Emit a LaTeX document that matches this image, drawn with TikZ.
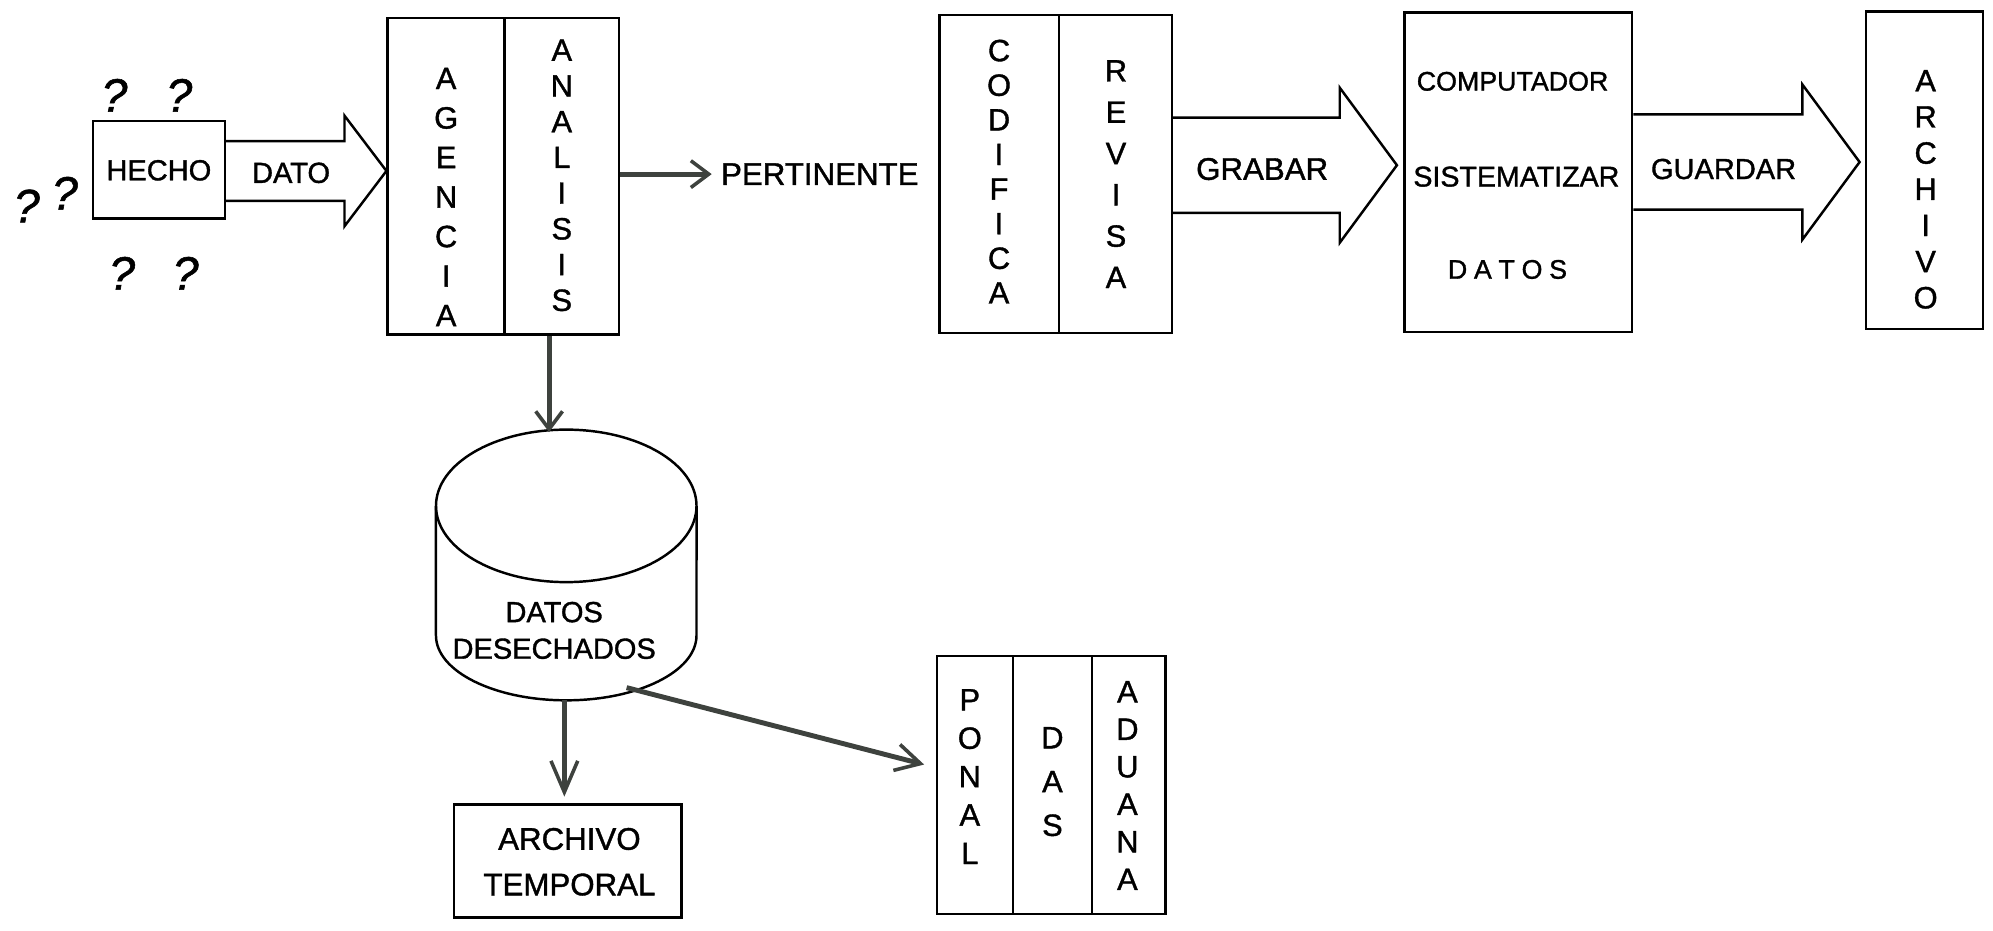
\documentclass[tikz,border=0pt]{standalone}
\usepackage{fontspec}
\setmainfont[FakeBold=1.2]{Liberation Sans}
\usetikzlibrary{arrows.meta,calc}
\definecolor{arrgray}{RGB}{62,66,62}
\newcommand{\blockarrow}[5]{% #1 start, #2 tip, #3 shaft half, #4 head half, #5 head length
  \draw[blk] ($(#1)+(0,-#3)$) -- ($(#2)+(-#5,-#3)$) -- ($(#2)+(-#5,-#4)$) -- (#2)
    -- ($(#2)+(-#5,#4)$) -- ($(#2)+(-#5,#3)$) -- ($(#1)+(0,#3)$);}
\begin{document}
\begin{tikzpicture}[x=0.02cm,y=-0.02cm,
  box/.style={draw, line width=1.1pt, inner sep=0pt},
  wh/.style 2 args={minimum width=#1*0.02cm, minimum height=#2*0.02cm},
  vstack/.style={inner sep=0pt, align=center, font=\fontsize{13.8pt}{#1pt}\selectfont},
  lbl/.style={inner sep=0pt, font=\fontsize{#1pt}{#1pt}\selectfont},
  lbltwo/.style 2 args={inner sep=0pt, align=center, font=\fontsize{#1pt}{#2pt}\selectfont},
  qm/.style={inner sep=0pt, font=\fontsize{21pt}{21pt}\selectfont\itshape},
  blk/.style={draw, line width=1.1pt, line join=miter},
  flow/.style={draw=arrgray, line width=2.2pt,
    -{Straight Barb[length=#1, width=12pt, line width=1.6pt]}},
  flow/.default=8pt
]
\useasboundingbox (0,0) rectangle (1568,732);

% ---- question marks and HECHO
\node[qm] (q1) at (90,75) {?};
\node[qm] (q2) at (141,75) {?};
\node[qm] (q3) at (21,162) {?};
\node[qm] (q4) at (51,152) {?};
\node[qm] (q5) at (96,215) {?};
\node[qm] (q6) at (146,215) {?};
\node[box, wh={104}{77}] (hecho) at (125,133.5) {};
\node[lbl=13] (hechotxt) at (125,134) {HECHO};

% ---- AGENCIA / ANALISIS
\node[box, wh={92}{249}] (agencia) at (351,138.5) {};
\node[box, wh={90}{249}] (analisis) at (442,138.5) {};
\node[vstack=17.7] (agtxt) at (351,155) {A\\G\\E\\N\\C\\I\\A};
\node[vstack=16] (antxt) at (442,138) {A\\N\\A\\L\\I\\S\\I\\S};

% DATO block arrow
\coordinate (d0) at (hecho.east |- 0,134.5);
\coordinate (d1) at (agencia.west |- 0,134.5);
\blockarrow{d0}{d1}{23.5}{43.5}{33}
\node[lbl=13] (dato) at (229,136) {DATO};

% PERTINENTE
\node[lbl=14] (pert) at (645,137) {PERTINENTE};
\draw[flow, shorten >=4pt] (analisis.east |- pert.west) -- (pert.west);

% ---- CODIFICA / REVISA
\node[box, wh={94}{250}] (codifica) at (786,137) {};
\node[box, wh={89}{250}] (revisa) at (877.5,137) {};
\node[vstack=15.5] (codtxt) at (786,135) {C\\O\\D\\I\\F\\I\\C\\A};
\node[vstack=18.5] (revtxt) at (878,137) {R\\E\\V\\I\\S\\A};

% ---- COMPUTADOR
\node[box, wh={179}{251}] (comp) at (1194.5,135.5) {};
\node[lbl=12] (comp1) at (1190,64) {COMPUTADOR};
\node[lbl=12.8] (comp2) at (1193,139) {SISTEMATIZAR};
\node[lbl=12] (comp3) at (1186,212) {D\kern3pt A\kern3pt T\kern3pt O\kern3pt S};

% GRABAR block arrow
\coordinate (g0) at (revisa.east |- 0,130);
\coordinate (g1) at ($(comp.west |- 0,130)+(-5,0)$);
\blockarrow{g0}{g1}{37.5}{61}{45}
\node[lbl=14] (grabar) at (993,133) {GRABAR};

% ---- ARCHIVO
\node[box, wh={92}{250}] (archivo) at (1514,134) {};
\node[vstack=16.2] (arctxt) at (1515,149) {A\\R\\C\\H\\I\\V\\O};

% GUARDAR block arrow
\coordinate (u0) at (comp.east |- 0,127.5);
\coordinate (u1) at ($(archivo.west |- 0,127.5)+(-4,0)$);
\blockarrow{u0}{u1}{37.5}{61}{45}
\node[lbl=13] (guardar) at (1356,133) {GUARDAR};

% ---- cylinder DATOS DESECHADOS
\coordinate (cylc) at (445.5,398);
\draw[blk] (cylc) ellipse [x radius=2.05cm, y radius=1.2cm];
\draw[blk] (343,398) -- (343,500) arc[start angle=180, end angle=360, x radius=2.05cm, y radius=1.02cm] -- (548,398);
\node[lbltwo={13}{16.4}] (cyltxt) at (436,496) {DATOS\\DESECHADOS};
\coordinate (cyltop) at (432,340);
\coordinate (cylbot) at (444,551);
\coordinate (cylout) at (493,541);
\draw[flow] (analisis.south -| cyltop) -- (cyltop);

% ---- ARCHIVO TEMPORAL
\node[box, wh={179}{89}] (temporal) at (446.5,677.5) {};
\node[lbltwo={14}{20.4}] (temptxt) at (448,678) {ARCHIVO\\TEMPORAL};
\draw[flow=14pt, shorten >=3pt] (cylbot) -- (temporal.north -| cylbot);

% ---- PONAL / DAS / ADUANA
\node[box, wh={60}{203}] (ponal) at (767,617.5) {};
\node[box, wh={62}{203}] (das) at (828,617.5) {};
\node[box, wh={58}{203}] (aduana) at (888,617.5) {};
\node[vstack=17.2] (ponaltxt) at (763,611) {P\\O\\N\\A\\L};
\node[vstack=19.6] (dastxt) at (828,615) {D\\A\\S};
\node[vstack=16.8] (aduanatxt) at (887,618) {A\\D\\U\\A\\N\\A};
\coordinate (ponalin) at ($(ponal.west)+(-9,-16)$);
\draw[flow=11pt] (cylout) -- (ponalin);
\end{tikzpicture}
\end{document}
